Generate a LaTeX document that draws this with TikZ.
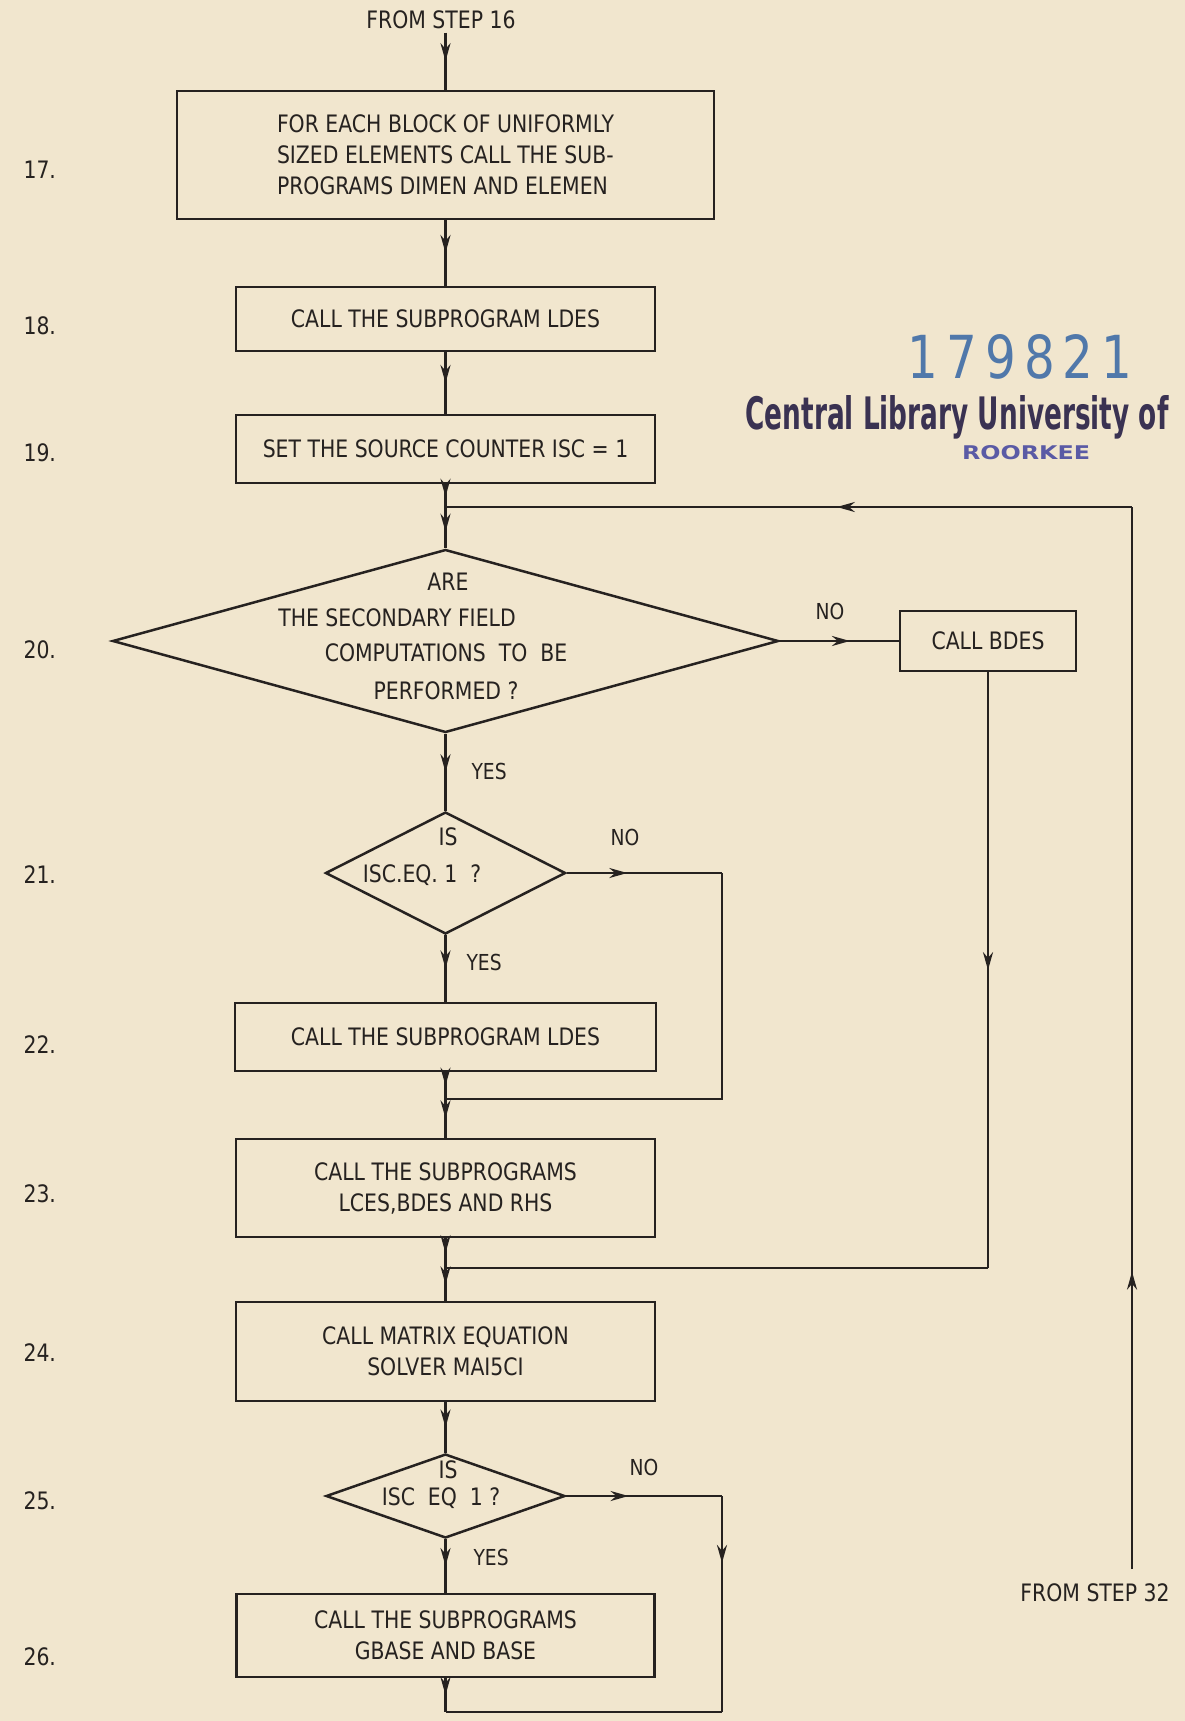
\documentclass[tikz,border=0pt]{standalone}
\usepackage{fontspec}
\setmainfont{DejaVu Sans}[FakeStretch=0.85]
\usetikzlibrary{shapes.geometric,arrows.meta,decorations.markings}
\definecolor{bg}{RGB}{241,230,206}
\definecolor{ink}{RGB}{38,34,32}
\definecolor{stampink}{RGB}{58,50,82}
\definecolor{penblue}{RGB}{80,120,170}
\definecolor{stampblue}{RGB}{90,90,165}
\begin{document}
\begin{tikzpicture}[x=1pt,y=-1pt,
  every node/.style={font=\fontsize{24}{31}\selectfont, text=ink},
  box/.style={draw=ink, line width=2.5pt, rectangle, inner sep=0pt, align=center},
  dia/.style={draw=ink, line width=2.5pt, diamond, inner sep=0pt},
  line/.style={draw=ink, line width=2.5pt},
  lbl/.style={font=\fontsize{22}{26}\selectfont},
  ar/.style={postaction={decorate}, decoration={markings, mark=at position #1 with {\arrow{Stealth[length=18pt,width=10pt]}}}},
  ar/.default=0.5]
\fill[bg] (0,0) rectangle (1185,1721);
\useasboundingbox (0,0) rectangle (1185,1721);

% nodes
\node (t16) at (441,20) {FROM STEP 16};
\node[box, minimum width=537pt, minimum height=128pt, align=left] (b17) at (445.5,155)
  {FOR EACH BLOCK OF UNIFORMLY\\SIZED ELEMENTS CALL THE SUB-\\PROGRAMS DIMEN AND ELEMEN};
\node[box, minimum width=419pt, minimum height=64pt] (b18) at (445.5,319) {CALL THE SUBPROGRAM LDES};
\node[box, minimum width=419pt, minimum height=68pt] (b19) at (445.5,449) {SET THE SOURCE COUNTER ISC = 1};
\coordinate (j1) at (445.5,507);
\node[dia, minimum width=666pt, minimum height=183pt] (d20) at (445.5,641) {};
\node (d20a) at (448,582) {ARE};
\node (d20b) at (397,618) {THE SECONDARY FIELD};
\node (d20c) at (446,653) {COMPUTATIONS \ TO \ BE};
\node (d20d) at (446,691) {PERFORMED ?};
\node[box, minimum width=176pt, minimum height=60pt] (bdes) at (988,641) {CALL BDES};
\node[dia, minimum width=240pt, minimum height=122pt] (d21) at (445.5,873) {};
\node (d21a) at (448,837) {IS};
\node (d21b) at (422,875) {ISC.EQ. 1 \ ?};
\node[box, minimum width=421pt, minimum height=68pt] (b22) at (445.5,1037) {CALL THE SUBPROGRAM LDES};
\coordinate (j2) at (445.5,1099);
\node[box, minimum width=419pt, minimum height=98pt] (b23) at (445.5,1188) {CALL THE SUBPROGRAMS\\LCES,BDES AND RHS};
\coordinate (j3) at (445.5,1268);
\node[box, minimum width=419pt, minimum height=99pt] (b24) at (445.5,1351.5) {CALL MATRIX EQUATION\\SOLVER MAI5CI};
\node[dia, minimum width=239pt, minimum height=84pt] (d25) at (445.5,1496) {};
\node (d25a) at (448,1470) {IS};
\node (d25b) at (441,1498) {ISC \ EQ \ 1 ?};
\node[box, minimum width=418pt, minimum height=83pt] (b26) at (445.5,1635.5) {CALL THE SUBPROGRAMS\\GBASE AND BASE};
\coordinate (j4) at (445.5,1712);
\node (t32) at (1095,1593) {FROM STEP 32};

% corner coordinates
\coordinate (k0) at (t16.south -| b17.north);
\coordinate (k1) at (bdes.south |- j3);
\coordinate (k3) at (722,1099);
\coordinate (k2) at (d21.east -| k3);
\coordinate (k5) at (722,1712);
\coordinate (k4) at (d25.east -| k5);
\coordinate (k6) at (1132,1569);
\coordinate (k7) at (1132,507);

% labels
\node[lbl, anchor=west] (y20) at (468,771) {YES};
\node[lbl, anchor=west] (y21) at (463,962) {YES};
\node[lbl, anchor=west] (y25) at (470,1557) {YES};
\node[lbl] (n20) at (830,611) {NO};
\node[lbl] (n21) at (625,837) {NO};
\node[lbl] (n25) at (644,1467) {NO};

% step numbers
\node[anchor=west] (s17) at (20,170) {17.};
\node[anchor=west] (s18) at (20,326) {18.};
\node[anchor=west] (s19) at (20,453) {19.};
\node[anchor=west] (s20) at (20,650) {20.};
\node[anchor=west] (s21) at (20,875) {21.};
\node[anchor=west] (s22) at (20,1045) {22.};
\node[anchor=west] (s23) at (20,1194) {23.};
\node[anchor=west] (s24) at (20,1353) {24.};
\node[anchor=west] (s25) at (20,1501) {25.};
\node[anchor=west] (s26) at (20,1657) {26.};

% stamp
\node[text=penblue, inner sep=0pt] (st1) at (1020,357) {\resizebox{225pt}{44pt}{\fontspec{DejaVu Sans}1\,7\,9\,8\,2\,1}};
\node[text=stampink, inner sep=0pt] (st2) at (957,417) {\resizebox{423pt}{34pt}{\bfseries Central Library University of}};
\node[text=stampblue, inner sep=0pt] (st3) at (1026,453) {\resizebox{128pt}{14pt}{\bfseries ROORKEE}};

% connectors
\draw[line, ar] (k0) -- (b17.north);
\draw[line, ar] (b17.south) -- (b18.north);
\draw[line, ar] (b18.south) -- (b19.north);
\draw[line, ar=0.55] (b19.south) -- (j1);
\draw[line, ar=0.6] (j1) -- (d20.north);
\draw[line, ar=0.59] (d20.east) -- (bdes.west);
\draw[line, ar=0.5] (bdes.south) -- (k1);
\draw[line] (k1) -- (j3);
\draw[line, ar] (d20.south) -- (d21.north);
\draw[line, ar=0.39] (d21.east) -- (k2);
\draw[line] (k2) -- (k3) -- (j2);
\draw[line, ar] (d21.south) -- (b22.north);
\draw[line, ar] (b22.south) -- (j2);
\draw[line, ar] (j2) -- (b23.north);
\draw[line, ar] (b23.south) -- (j3);
\draw[line, ar] (j3) -- (b24.north);
\draw[line, ar] (b24.south) -- (d25.north);
\draw[line, ar=0.4] (d25.east) -- (k4);
\draw[line, ar=0.31] (k4) -- (k5);
\draw[line] (k5) -- (j4);
\draw[line, ar] (d25.south) -- (b26.north);
\draw[line, ar] (b26.south) -- (j4);
\draw[line, ar=0.28] (k6) -- (k7);
\draw[line, ar=0.43] (k7) -- (j1);
\end{tikzpicture}
\end{document}
